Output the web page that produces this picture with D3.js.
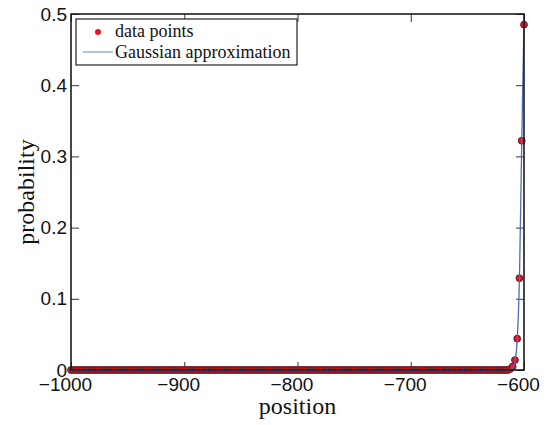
<!DOCTYPE html>
<html>
<head>
<meta charset="utf-8">
<script src="https://cdn.jsdelivr.net/npm/d3@7"></script>
<style>
  body { margin: 0; background: #fff; }
  svg { display: block; }
</style>
</head>
<body>
<svg class="chart"></svg>
<script>
// probability vs position, data points + gaussian fit
const width = 550
const height = 425
const margin = ({top: 14, right: 26, bottom: 55, left: 71})

// positions of the data points (step of 2)
const positions = [
  -1000, -998, -996, -994, -992, -990, -988, -986, -984, -982,
  -980, -978, -976, -974, -972, -970, -968, -966, -964, -962,
  -960, -958, -956, -954, -952, -950, -948, -946, -944, -942,
  -940, -938, -936, -934, -932, -930, -928, -926, -924, -922,
  -920, -918, -916, -914, -912, -910, -908, -906, -904, -902,
  -900, -898, -896, -894, -892, -890, -888, -886, -884, -882,
  -880, -878, -876, -874, -872, -870, -868, -866, -864, -862,
  -860, -858, -856, -854, -852, -850, -848, -846, -844, -842,
  -840, -838, -836, -834, -832, -830, -828, -826, -824, -822,
  -820, -818, -816, -814, -812, -810, -808, -806, -804, -802,
  -800, -798, -796, -794, -792, -790, -788, -786, -784, -782,
  -780, -778, -776, -774, -772, -770, -768, -766, -764, -762,
  -760, -758, -756, -754, -752, -750, -748, -746, -744, -742,
  -740, -738, -736, -734, -732, -730, -728, -726, -724, -722,
  -720, -718, -716, -714, -712, -710, -708, -706, -704, -702,
  -700, -698, -696, -694, -692, -690, -688, -686, -684, -682,
  -680, -678, -676, -674, -672, -670, -668, -666, -664, -662,
  -660, -658, -656, -654, -652, -650, -648, -646, -644, -642,
  -640, -638, -636, -634, -632, -630, -628, -626, -624, -622,
  -620, -618, -616, -614, -612, -610, -608, -606, -604, -602,
  -600
]

// measured probability at each position
const probability = [
  0, 0, 0, 0, 0, 0, 0, 0, 0, 0,
  0, 0, 0, 0, 0, 0, 0, 0, 0, 0,
  0, 0, 0, 0, 0, 0, 0, 0, 0, 0,
  0, 0, 0, 0, 0, 0, 0, 0, 0, 0,
  0, 0, 0, 0, 0, 0, 0, 0, 0, 0,
  0, 0, 0, 0, 0, 0, 0, 0, 0, 0,
  0, 0, 0, 0, 0, 0, 0, 0, 0, 0,
  0, 0, 0, 0, 0, 0, 0, 0, 0, 0,
  0, 0, 0, 0, 0, 0, 0, 0, 0, 0,
  0, 0, 0, 0, 0, 0, 0, 0, 0, 0,
  0, 0, 0, 0, 0, 0, 0, 0, 0, 0,
  0, 0, 0, 0, 0, 0, 0, 0, 0, 0,
  0, 0, 0, 0, 0, 0, 0, 0, 0, 0,
  0, 0, 0, 0, 0, 0, 0, 0, 0, 0,
  0, 0, 0, 0, 0, 0, 0, 0, 0, 0,
  0, 0, 0, 0, 0, 0, 0, 0, 0, 0,
  0, 0, 0, 0, 0, 0, 0, 0, 0, 0,
  0, 0, 0, 0, 0, 0, 0, 0, 0, 0,
  0, 0, 0, 0, 0, 0, 0, 0, 0, 0,
  0, 0, 0, 0, 0.0015, 0.005, 0.014, 0.044, 0.129, 0.322,
  0.485
]

// gaussian approximation at the same positions
const gaussian = [
  0, 0, 0, 0, 0, 0, 0, 0, 0, 0,
  0, 0, 0, 0, 0, 0, 0, 0, 0, 0,
  0, 0, 0, 0, 0, 0, 0, 0, 0, 0,
  0, 0, 0, 0, 0, 0, 0, 0, 0, 0,
  0, 0, 0, 0, 0, 0, 0, 0, 0, 0,
  0, 0, 0, 0, 0, 0, 0, 0, 0, 0,
  0, 0, 0, 0, 0, 0, 0, 0, 0, 0,
  0, 0, 0, 0, 0, 0, 0, 0, 0, 0,
  0, 0, 0, 0, 0, 0, 0, 0, 0, 0,
  0, 0, 0, 0, 0, 0, 0, 0, 0, 0,
  0, 0, 0, 0, 0, 0, 0, 0, 0, 0,
  0, 0, 0, 0, 0, 0, 0, 0, 0, 0,
  0, 0, 0, 0, 0, 0, 0, 0, 0, 0,
  0, 0, 0, 0, 0, 0, 0, 0, 0, 0,
  0, 0, 0, 0, 0, 0, 0, 0, 0, 0,
  0, 0, 0, 0, 0, 0, 0, 0, 0, 0,
  0, 0, 0, 0, 0, 0, 0, 0, 0, 0,
  0, 0, 0, 0, 0, 0, 0, 0, 0, 0,
  0, 0, 0, 0, 0, 0, 0, 0, 0, 0,
  0, 0, 0, 0, 0.0006, 0.003, 0.012, 0.042, 0.13, 0.32,
  0.49
]

const xTicks = [-1000, -900, -800, -700, -600]
const yTicks = [0, 0.1, 0.2, 0.3, 0.4, 0.5]
const legendLabels = ['data points', 'Gaussian approximation']

const svg = d3.select('svg.chart')
  .attr('width', width)
  .attr('height', height)

const xScale = d3.scaleLinear()
  .domain([-1000, -600])
  .range([margin.left, width - margin.right])

const yScale = d3.scaleLinear()
  .domain([0, 0.5])
  .range([height - margin.bottom, margin.top])

const points = positions.map((p, i) => ({x: p, y: probability[i], g: gaussian[i]}))

const sans = 'Liberation Sans, Arial, sans-serif'
const serif = 'Liberation Serif, Times New Roman, serif'
const tickLen = 8

// axes (inward ticks on all four sides, like matlab box on)
const xAxisBottom = d3.axisBottom(xScale)
  .tickValues(xTicks)
  .tickSize(-tickLen)
  .tickFormat(d => d3.format('d')(d).replace('-', '\u2212'))

const xAxisTop = d3.axisTop(xScale)
  .tickValues(xTicks)
  .tickSize(-tickLen)
  .tickFormat('')

const yAxisLeft = d3.axisLeft(yScale)
  .tickValues(yTicks)
  .tickSize(-tickLen)
  .tickFormat(d => d === 0 ? '0' : d3.format('.1f')(d))

const yAxisRight = d3.axisRight(yScale)
  .tickValues(yTicks)
  .tickSize(-tickLen)
  .tickFormat('')

const gx = svg.append('g')
  .attr('transform', `translate(0, ${height - margin.bottom})`)
  .call(xAxisBottom)
gx.selectAll('text')
  .attr('font-family', sans)
  .attr('font-size', 19)
  .attr('fill', '#111')
  .attr('dx', -6)
  .attr('y', 8)
  .attr('dy', '0.71em')

svg.append('g')
  .attr('transform', `translate(0, ${margin.top})`)
  .call(xAxisTop)

const gy = svg.append('g')
  .attr('transform', `translate(${margin.left}, 0)`)
  .call(yAxisLeft)
gy.selectAll('text')
  .attr('font-family', sans)
  .attr('font-size', 19)
  .attr('fill', '#111')
  .attr('x', -4)

svg.append('g')
  .attr('transform', `translate(${width - margin.right}, 0)`)
  .call(yAxisRight)

svg.selectAll('.domain').remove()
svg.selectAll('.tick line').attr('stroke', '#333').attr('stroke-width', 1)

// data points
svg.append('g')
  .selectAll('circle')
  .data(points)
  .join('circle')
    .attr('cx', d => xScale(d.x))
    .attr('cy', d => yScale(d.y))
    .attr('r', 3.4)
    .attr('fill', '#e8141e')
    .attr('stroke', '#5a1a2a')
    .attr('stroke-width', 1)

// gaussian line on top
const line = d3.line()
  .x(d => xScale(d.x))
  .y(d => yScale(d.g))
  .curve(d3.curveMonotoneX)

svg.append('path')
  .datum(points)
  .attr('fill', 'none')
  .attr('stroke', '#4a6cc0')
  .attr('stroke-width', 1.3)
  .attr('d', line)

// frame
svg.append('rect')
  .attr('x', margin.left)
  .attr('y', margin.top)
  .attr('width', width - margin.left - margin.right)
  .attr('height', height - margin.top - margin.bottom)
  .attr('fill', 'none')
  .attr('stroke', '#1a1a1a')
  .attr('stroke-width', 1.6)

// axis labels
svg.append('text')
  .attr('x', (margin.left + width - margin.right) / 2)
  .attr('y', 414)
  .attr('text-anchor', 'middle')
  .attr('font-family', serif)
  .attr('font-size', 24)
  .attr('fill', '#111')
  .text('position')

svg.append('text')
  .attr('transform', 'translate(34, 192) rotate(-90)')
  .attr('text-anchor', 'middle')
  .attr('font-family', serif)
  .attr('font-size', 24)
  .attr('fill', '#111')
  .text('probability')

// legend
const legend = svg.append('g')

legend.append('rect')
  .attr('x', 76)
  .attr('y', 19)
  .attr('width', 221)
  .attr('height', 46)
  .attr('fill', '#fff')
  .attr('stroke', '#222')
  .attr('stroke-width', 1.2)

legend.append('circle')
  .attr('cx', 98)
  .attr('cy', 32)
  .attr('r', 3)
  .attr('fill', '#e8141e')

legend.append('line')
  .attr('x1', 83)
  .attr('x2', 113)
  .attr('y1', 52)
  .attr('y2', 52)
  .attr('stroke', '#8aa2d8')
  .attr('stroke-width', 1.3)

legend.selectAll('text.lab')
  .data(legendLabels)
  .join('text')
    .attr('class', 'lab')
    .attr('x', 115)
    .attr('y', (d, i) => 37 + i * 21)
    .attr('font-family', serif)
    .attr('font-size', 18)
    .attr('fill', '#111')
    .text(d => d)
</script>
</body>
</html>
